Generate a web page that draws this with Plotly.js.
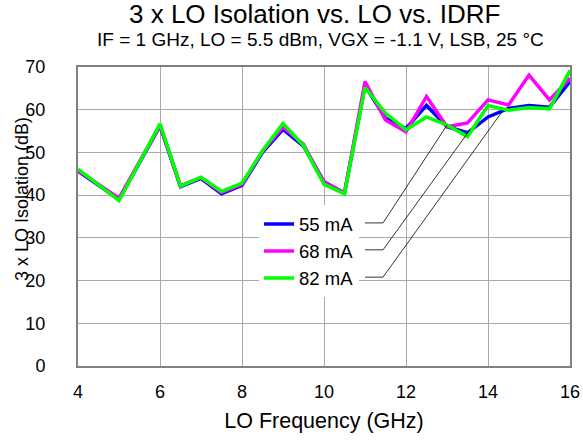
<!DOCTYPE html>
<html>
<head>
<meta charset="utf-8">
<script src="https://cdn.plot.ly/plotly-3.0.1.min.js"></script>
<style>
  html, body { margin: 0; padding: 0; background: #fff; }
  #chart { width: 583px; height: 440px; }
</style>
</head>
<body>
<div id="chart"></div>
<script>
// ---- data ----
var freqGHz = [4, 5, 6, 6.5, 7, 7.5, 8, 8.5, 9, 9.5, 10, 10.5, 11, 11.5, 12, 12.5, 13, 13.5, 14, 14.5, 15, 15.5, 16];
var iso55mA = [45.6, 39.0, 56.2, 42.0, 43.9, 40.3, 42.3, 50.0, 55.4, 51.5, 43.1, 40.5, 65.6, 58.0, 55.6, 61.0, 56.0, 54.6, 58.3, 60.3, 61.0, 60.6, 66.6];
var iso68mA = [45.8, 39.3, 56.4, 42.2, 44.1, 40.6, 42.5, 50.3, 56.0, 51.9, 43.0, 40.5, 66.6, 57.6, 54.8, 63.1, 56.0, 56.9, 62.3, 61.1, 68.1, 62.3, 67.4];
var iso82mA = [46.1, 38.7, 56.7, 42.1, 44.2, 40.9, 42.8, 50.4, 56.8, 51.6, 42.5, 40.3, 65.2, 59.2, 55.3, 58.3, 56.4, 53.7, 61.0, 59.9, 60.5, 60.2, 69.2];
var seriesNames = ['55 mA', '68 mA', '82 mA'];
var seriesColors = ['#0000ff', '#ff00ff', '#00ff00'];

var xTickVals = [4, 6, 8, 10, 12, 14, 16];
var yTickVals = [0, 10, 20, 30, 40, 50, 60, 70];

// legend leader lines (data units): elbow start, elbow end, and pointer end
var leadStartX = [11.0, 11.0, 11.0];
var leadElbowX = [11.44, 11.44, 11.44];
var leadY = [33.5, 27.2, 20.8];
var leadEndX = [13.0, 13.56, 14.37];
var leadEndY = [56.4, 55.3, 59.9];

var titleText = '3 x LO Isolation vs. LO vs. IDRF';
var subtitleText = 'IF = 1 GHz, LO = 5.5 dBm, VGX = -1.1 V, LSB, 25 °C';
var xTitle = 'LO Frequency (GHz)';
var yTitle = '3 x LO Isolation (dB)';

// ---- build ----
var ys = [iso55mA, iso68mA, iso82mA];
var traces = ys.map(function (y, i) {
  return {
    x: freqGHz, y: y, type: 'scatter', mode: 'lines', name: seriesNames[i],
    line: { color: seriesColors[i], width: 3.5 }
  };
});

var shapes = leadY.map(function (ly, i) {
  return {
    type: 'path', xref: 'x', yref: 'y',
    path: 'M ' + leadStartX[i] + ',' + ly + ' L ' + leadElbowX[i] + ',' + ly + ' L ' + leadEndX[i] + ',' + leadEndY[i],
    line: { color: '#000', width: 0.8 }
  };
});

var FONT = 'Liberation Sans, Arial, Helvetica, sans-serif';

var layout = {
  width: 583, height: 440,
  margin: { l: 78, r: 13, t: 67, b: 74 },
  paper_bgcolor: '#fff', plot_bgcolor: '#fff',
  font: { family: FONT, color: '#000' },
  showlegend: true,
  legend: {
    x: 0.368, y: 0.537, xanchor: 'left', yanchor: 'top',
    bgcolor: '#fff', borderwidth: 0, font: { size: 18.5, family: FONT, color: '#000' }
  },
  xaxis: {
    range: [4, 16], tickvals: xTickVals, ticks: '', ticklabelstandoff: 8,
    showgrid: true, gridcolor: '#a9a9a9', gridwidth: 1,
    showline: true, linecolor: '#808080', linewidth: 2, mirror: true, zeroline: false,
    tickfont: { size: 18, family: FONT, color: '#000' },
    title: { text: xTitle, font: { size: 21.5, family: FONT, color: '#000' }, standoff: 12 }
  },
  yaxis: {
    range: [0, 70], tickvals: yTickVals, ticks: '', ticklabelstandoff: 27,
    showgrid: true, gridcolor: '#a9a9a9', gridwidth: 1,
    showline: true, linecolor: '#808080', linewidth: 2, mirror: true, zeroline: false,
    tickfont: { size: 18, family: FONT, color: '#000' }
  },
  shapes: shapes,
  annotations: [
    { text: titleText, xref: 'paper', yref: 'paper', x: 0.4817, y: 1.176, xanchor: 'center', yanchor: 'middle',
      showarrow: false, font: { size: 26, family: FONT, color: '#000' } },
    { text: subtitleText, xref: 'paper', yref: 'paper', x: 0.4919, y: 1.0926, xanchor: 'center', yanchor: 'middle',
      showarrow: false, font: { size: 19, family: FONT, color: '#000' } },
    { text: yTitle, xref: 'paper', yref: 'paper', x: -0.1138, y: 0.5585, xanchor: 'center', yanchor: 'middle',
      textangle: -90, showarrow: false, font: { size: 18, family: FONT, color: '#000' } }
  ]
};

Plotly.newPlot('chart', traces, layout, { staticPlot: true, displayModeBar: false });
</script>
</body>
</html>
